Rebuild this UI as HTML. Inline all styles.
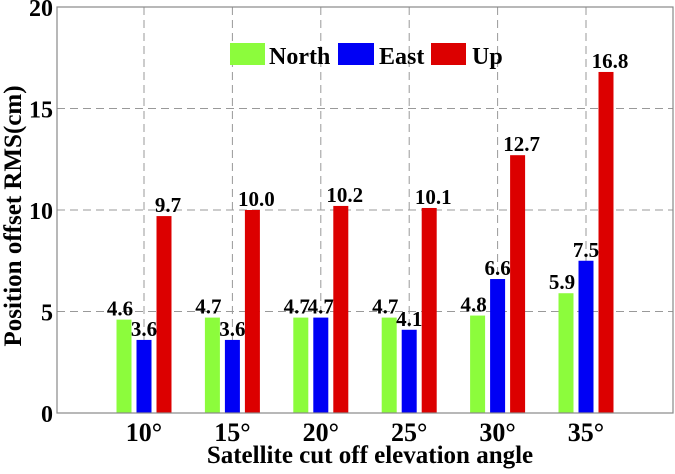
<!DOCTYPE html>
<html><head><meta charset="utf-8"><style>
body{margin:0;background:#fff}
svg text{font-family:"Liberation Serif",serif;font-weight:bold}
</style></head><body>
<svg width="675" height="469" xmlns="http://www.w3.org/2000/svg">
<g id="grid"></g>
<g id="bars"></g>
<g id="axes"></g>
<g>
<rect x="230" y="43" width="35" height="22" fill="#8cfc3c"/>
<text x="269" y="64" font-size="24">North</text>
<rect x="338" y="43" width="36" height="22" fill="#0000f5"/>
<text x="379" y="64" font-size="24">East</text>
<rect x="431" y="43" width="35" height="22" fill="#dc0000"/>
<text x="472" y="64" font-size="24">Up</text>
</g>
<text x="370" y="463" font-size="25" text-anchor="middle">Satellite cut off elevation angle</text>
<text transform="translate(21,216) rotate(-90)" font-size="25" text-anchor="middle">Position offset RMS(cm)</text>
</svg>
<script>
const categories=["10°","15°","20°","25°","30°","35°"];
const north=[4.6,4.7,4.7,4.7,4.8,5.9];
const east=[3.6,3.6,4.7,4.1,6.6,7.5];
const up=[9.7,10.0,10.2,10.1,12.7,16.8];
const yTicks=[0,5,10,15,20];
const L=57,R=673,T=7,B=413;
const y=v=>B-(B-T)*v/20;
const x=i=>144+i*88.4;
const NS="http://www.w3.org/2000/svg";
function mk(p,t,a){const e=document.createElementNS(NS,t);for(const k in a)e.setAttribute(k,a[k]);p.appendChild(e);return e;}
const grid=document.getElementById('grid'),bars=document.getElementById('bars'),axes=document.getElementById('axes');
yTicks.forEach(v=>{
 if(v>0&&v<20){const g=mk(grid,'line',{x1:L,x2:R,y1:y(v),y2:y(v),stroke:'#999','stroke-dasharray':'8,5'});
 
 }
 const t=mk(axes,'text',{x:L-4,y:y(v)+9,'font-size':24,'text-anchor':'end'});t.textContent=v;
 
 
});
categories.forEach((c,i)=>{
 const g=mk(grid,'line',{x1:x(i),x2:x(i),y1:T,y2:B,stroke:'#999','stroke-dasharray':'8,5'});
 
 
 const t=mk(axes,'text',{x:x(i),y:441,'font-size':26,'text-anchor':'middle'});t.textContent=c;
 
 
 [[north,-20,'#8cfc3c','north'],[east,0,'#0000f5','east'],[up,20,'#dc0000','up']].forEach(([s,o,col,n])=>{
  const cx=x(i)+o;
  const r=mk(bars,'rect',{x:cx-7.5,y:y(s[i]),width:15,height:B-y(s[i]),fill:col});
  
  
  const l=mk(bars,'text',{x:cx+(n=='north'?-4:n=='up'?4:0),y:y(s[i])-4,'font-size':21,'text-anchor':'middle'});l.textContent=s[i].toFixed(1);
  
  
 });
});
const f=mk(axes,'rect',{x:L,y:T,width:R-L,height:B-T,fill:'none',stroke:'#888','stroke-width':1.2});


</script>
</body></html>
